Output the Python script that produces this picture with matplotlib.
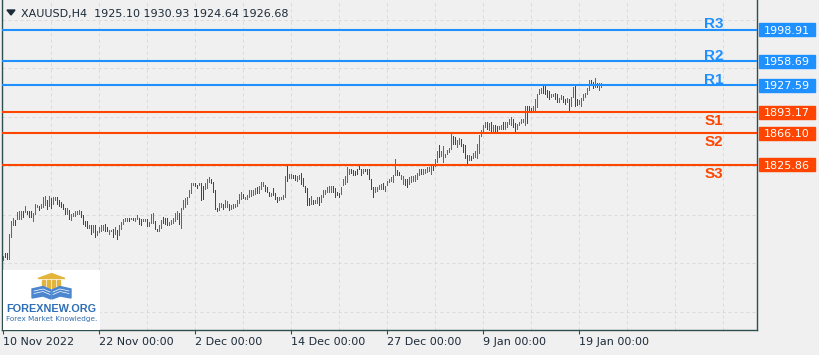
import numpy as np
import matplotlib.pyplot as plt
from matplotlib.patches import Rectangle, Polygon
import matplotlib.transforms as mtransforms

# H4 bars: high, low and direction (u = up bar, d = down bar)
highs = [
    1709, 1713, 1713, 1737, 1754, 1758, 1755, 1765, 1767, 1767,
    1767, 1773, 1767, 1767, 1767, 1764, 1775, 1774, 1773, 1775,
    1784, 1786, 1781, 1786, 1783, 1784, 1784, 1785, 1781, 1778,
    1775, 1771, 1771, 1768, 1763, 1764, 1766, 1767, 1768, 1767,
    1761, 1754, 1754, 1749, 1748, 1748, 1748, 1741, 1746, 1748,
    1749, 1750, 1746, 1742, 1742, 1743, 1746, 1742, 1749, 1753,
    1756, 1758, 1758, 1758, 1758, 1758, 1757, 1761, 1757, 1756,
    1756, 1756, 1756, 1753,
    1763, 1764, 1754, 1744, 1749, 1755, 1759, 1758, 1757, 1753,
    1755, 1757, 1764, 1766, 1764, 1770, 1781, 1783, 1785, 1793,
    1803, 1803, 1803, 1800, 1803, 1802, 1799, 1802, 1808, 1810,
    1807, 1804, 1794, 1771, 1777, 1777, 1776, 1780, 1779, 1776,
    1774, 1776, 1776, 1780, 1788, 1791, 1788, 1785, 1787, 1793,
    1793, 1794, 1796, 1797, 1798, 1804, 1804, 1800, 1797, 1791,
    1789, 1796, 1790, 1785, 1784, 1785, 1787, 1811, 1826, 1814,
    1814, 1813, 1813, 1811, 1813,
    1815, 1809, 1798, 1796, 1783, 1786, 1780, 1780, 1785, 1785,
    1787, 1793, 1794, 1797, 1798, 1798, 1799, 1796, 1791, 1789,
    1797, 1808, 1811, 1823, 1821, 1820, 1819, 1818, 1821, 1826,
    1820, 1820, 1820, 1821, 1821, 1808, 1797, 1797, 1797, 1800,
    1801, 1803, 1798, 1805, 1807, 1810, 1813, 1833, 1819, 1817,
    1813, 1811, 1808, 1807, 1810, 1811, 1811, 1813, 1815, 1821,
    1820, 1820, 1821, 1823, 1823, 1826, 1826, 1833, 1844, 1851,
    1843, 1850, 1840, 1845, 1847,
    1867, 1863, 1862, 1858, 1860, 1859, 1853, 1851, 1838, 1838,
    1837, 1841, 1843, 1853, 1864, 1870, 1877, 1880, 1881, 1879,
    1881, 1877, 1877, 1876, 1876, 1877, 1880, 1880, 1881, 1885,
    1887, 1884, 1879, 1878, 1881, 1884, 1885, 1901, 1901, 1901,
    1898, 1901, 1910, 1917, 1923, 1924, 1927, 1928, 1921, 1920,
    1917, 1917, 1918, 1917, 1912, 1915, 1914, 1910, 1911, 1910,
    1913, 1925, 1927, 1910, 1909, 1911, 1917, 1918, 1924, 1935,
    1935, 1932, 1937, 1931, 1930, 1930.93,
]
lows = [
    1703, 1706, 1704, 1704, 1732, 1747, 1747, 1755, 1755, 1755,
    1757, 1764, 1761, 1758, 1757, 1753, 1761, 1770, 1767, 1769,
    1771, 1773, 1768, 1772, 1769, 1774, 1779, 1774, 1772, 1770,
    1768, 1761, 1762, 1755, 1754, 1759, 1759, 1761, 1761, 1757,
    1749, 1746, 1744, 1743, 1736, 1738, 1732, 1735, 1738, 1740,
    1741, 1740, 1739, 1736, 1739, 1732, 1736, 1729, 1735, 1742,
    1749, 1753, 1752, 1753, 1755, 1754, 1752, 1755, 1748, 1747,
    1752, 1753, 1746, 1746,
    1750, 1750, 1742, 1739, 1740, 1744, 1750, 1749, 1747, 1747,
    1749, 1750, 1753, 1755, 1749, 1744, 1768, 1770, 1774, 1783,
    1788, 1799, 1797, 1795, 1798, 1779, 1780, 1794, 1795, 1802,
    1801, 1789, 1768, 1765, 1767, 1770, 1768, 1770, 1771, 1767,
    1768, 1769, 1770, 1772, 1776, 1780, 1782, 1781, 1781, 1783,
    1785, 1786, 1787, 1788, 1788, 1794, 1797, 1791, 1789, 1785,
    1785, 1786, 1781, 1777, 1779, 1780, 1781, 1783, 1804, 1807,
    1808, 1807, 1805, 1804, 1806,
    1800, 1797, 1789, 1773, 1773, 1774, 1774, 1776, 1776, 1773,
    1777, 1783, 1787, 1789, 1790, 1790, 1789, 1783, 1786, 1783,
    1787, 1798, 1800, 1802, 1813, 1814, 1812, 1811, 1813, 1819,
    1812, 1814, 1816, 1813, 1806, 1793, 1783, 1790, 1791, 1793,
    1794, 1793, 1791, 1799, 1802, 1804, 1802, 1811, 1811, 1811,
    1806, 1800, 1799, 1796, 1800, 1803, 1804, 1804, 1806, 1811,
    1813, 1813, 1814, 1815, 1817, 1813, 1818, 1823, 1828, 1834,
    1836, 1828, 1835, 1838, 1841,
    1845, 1851, 1851, 1847, 1851, 1848, 1841, 1833, 1826, 1831,
    1831, 1833, 1834, 1833, 1840, 1862, 1866, 1873, 1870, 1869,
    1867, 1868, 1867, 1868, 1870, 1870, 1870, 1870, 1873, 1877,
    1875, 1873, 1866, 1871, 1876, 1878, 1879, 1875, 1878, 1893,
    1893, 1892, 1893, 1898, 1915, 1917, 1917, 1915, 1911, 1909,
    1912, 1913, 1909, 1905, 1905, 1909, 1905, 1903, 1905, 1895,
    1900, 1911, 1900, 1901, 1903, 1900, 1907, 1912, 1915, 1920,
    1928, 1923, 1924, 1924, 1920, 1924.64,
]
dirs = ("udduuuduuu" "duddduuudu" "uududuuddd" "dduduuuuud" "dddududuuu"
        "udduududuu" "uuududuudd" "uudu"
        "uudduudddu" "uuuuduuuuu" "uuddudduuu" "dddduuduud" "uuuuuuduuu"
        "uuuduuuddd" "uddduuuudu" "udduu"
        "ddddduduud" "uuuuuudddd" "uuuuuddddd" "duddddduuu" "uduuuuuudd"
        "uudduuuuuu" "duuuuuduud" "uuuuu"
        "udduuddddu" "duuuuuuudu" "dudduuduuu" "udduuuuudd" "duuuuudddd"
        "uudduuddud" "uudduuuuuu" "dduduu")

date_bars = [0, 48, 96, 144, 192, 240, 288]
date_labels = ["10 Nov 2022", "22 Nov 00:00", "2 Dec 00:00", "14 Dec 00:00",
               "27 Dec 00:00", "9 Jan 00:00", "19 Jan 00:00"]

level_names = ["R3", "R2", "R1", "S1", "S2", "S3"]
level_values = [1998.91, 1958.69, 1927.59, 1893.17, 1866.10, 1825.86]

header = "XAUUSD,H4  1925.10 1930.93 1924.64 1926.68"

assert len(highs) == len(lows) == len(dirs), (len(highs), len(lows), len(dirs))

# ---------- figure ----------
W, H = 820, 355
bg = "#f0f0f0"
frame = "#2f4f4f"
txt = "#1c2b39"
blue = "#1E90FF"
orange = "#FF4500"

fig = plt.figure(figsize=(W / 100, H / 100), dpi=100, facecolor=bg)
ax = fig.add_axes([2 / W, 25 / H, 755 / W, 330 / H], facecolor=bg)
ax.set_xlim(-0.75, 376.75)
ax.set_ylim(1614, 2037)

# dashed grid
for g in range(24, 377, 24):
    ax.axvline(g, color="#dadada", lw=0.72, ls=(0, (3, 3)), zorder=0)
for g in np.arange(1637, 2037, 62.5):
    ax.axhline(g, color="#dadada", lw=0.72, ls=(0, (3, 3)), zorder=0)

# bars: 1 px wide, high to low
x = np.arange(len(highs))
hi = np.array(highs)
lo = np.array(lows)
cols = ["#2E8B2E" if d == "u" else "#E60000" for d in dirs]
ax.bar(x, hi - lo, bottom=lo, width=0.5, color=cols, linewidth=0, zorder=2)

# support / resistance levels
trans = mtransforms.blended_transform_factory(ax.transAxes, ax.transData)
for name, val in zip(level_names, level_values):
    c = blue if name.startswith("R") else orange
    ax.axhline(val, color=c, lw=1.5, zorder=3)
    ty = val + 1.8 if name.startswith("R") else val - 16.5
    ax.text(355, ty, name, color=c, fontsize=11, fontweight="bold",
            family=["Liberation Sans", "DejaVu Sans"], ha="center", va="baseline", zorder=4)
    ax.add_patch(Rectangle((1.0027, val - 8.3), 0.0742, 16.7, transform=trans,
                           color=c, clip_on=False, zorder=4))
    ax.text(1.0027 + 0.0371, val, f"{val:.2f}", transform=trans, color="white",
            fontsize=8, ha="center", va="center_baseline", clip_on=False, zorder=5)

# axes frame and date axis
ax.spines["top"].set_visible(False)
for s in ["left", "right", "bottom"]:
    ax.spines[s].set_color(frame)
    ax.spines[s].set_linewidth(1.0)
ax.set_yticks([])
ax.set_xticks(date_bars, date_labels, ha="left")
ax.tick_params(axis="x", length=3, width=0.8, color=frame, labelsize=8,
               labelcolor=txt, pad=2)

# header
fig.text(21 / W, 1 - 17.3 / H, header, fontsize=8, color=txt, va="baseline")
fig.add_artist(Polygon([(7 / W, 1 - 10 / H), (15 / W, 1 - 10 / H), (11 / W, 1 - 15 / H)],
                       closed=True, color=txt, transform=fig.transFigure))

# logo box
lax = fig.add_axes([3 / W, 25 / H, 97 / W, 60 / H])
lax.set_xlim(0, 97)
lax.set_ylim(60, 0)
lax.axis("off")
lax.add_patch(Rectangle((0, 0), 97, 60, color="white"))
gold = "#E2B43C"
lax.add_patch(Polygon([(35, 8.5), (48.5, 3.5), (62, 8.5)], color=gold))
for cx in [39.5, 44.5, 49.5, 54.5]:
    lax.add_patch(Rectangle((cx, 9.5), 2.5, 8.5, color=gold))
lax.add_patch(Polygon([(29, 19), (40, 16.5), (48, 20), (48, 29), (40, 26), (29, 28)],
                      color="#4B86CF"))
lax.add_patch(Polygon([(68, 19), (57, 16.5), (49, 20), (49, 29), (57, 26), (68, 28)],
                      color="#4B86CF"))
for yy in [21, 23.5]:
    lax.plot([31, 40, 47], [yy, yy - 2, yy + 1], color="white", lw=0.5)
    lax.plot([66, 57, 50], [yy, yy - 2, yy + 1], color="white", lw=0.5)
lax.text(48.5, 41.5, "FOREXNEW.ORG", fontsize=7.8, fontweight="bold", color="#2F6EB5",
         family="Liberation Sans", ha="center", va="baseline")
lax.text(48.5, 50.5, "Forex Market Knowledge.", fontsize=5.2, color="#2F6EB5",
         ha="center", va="baseline")

fig.savefig("out.png", dpi=100, facecolor=bg)
